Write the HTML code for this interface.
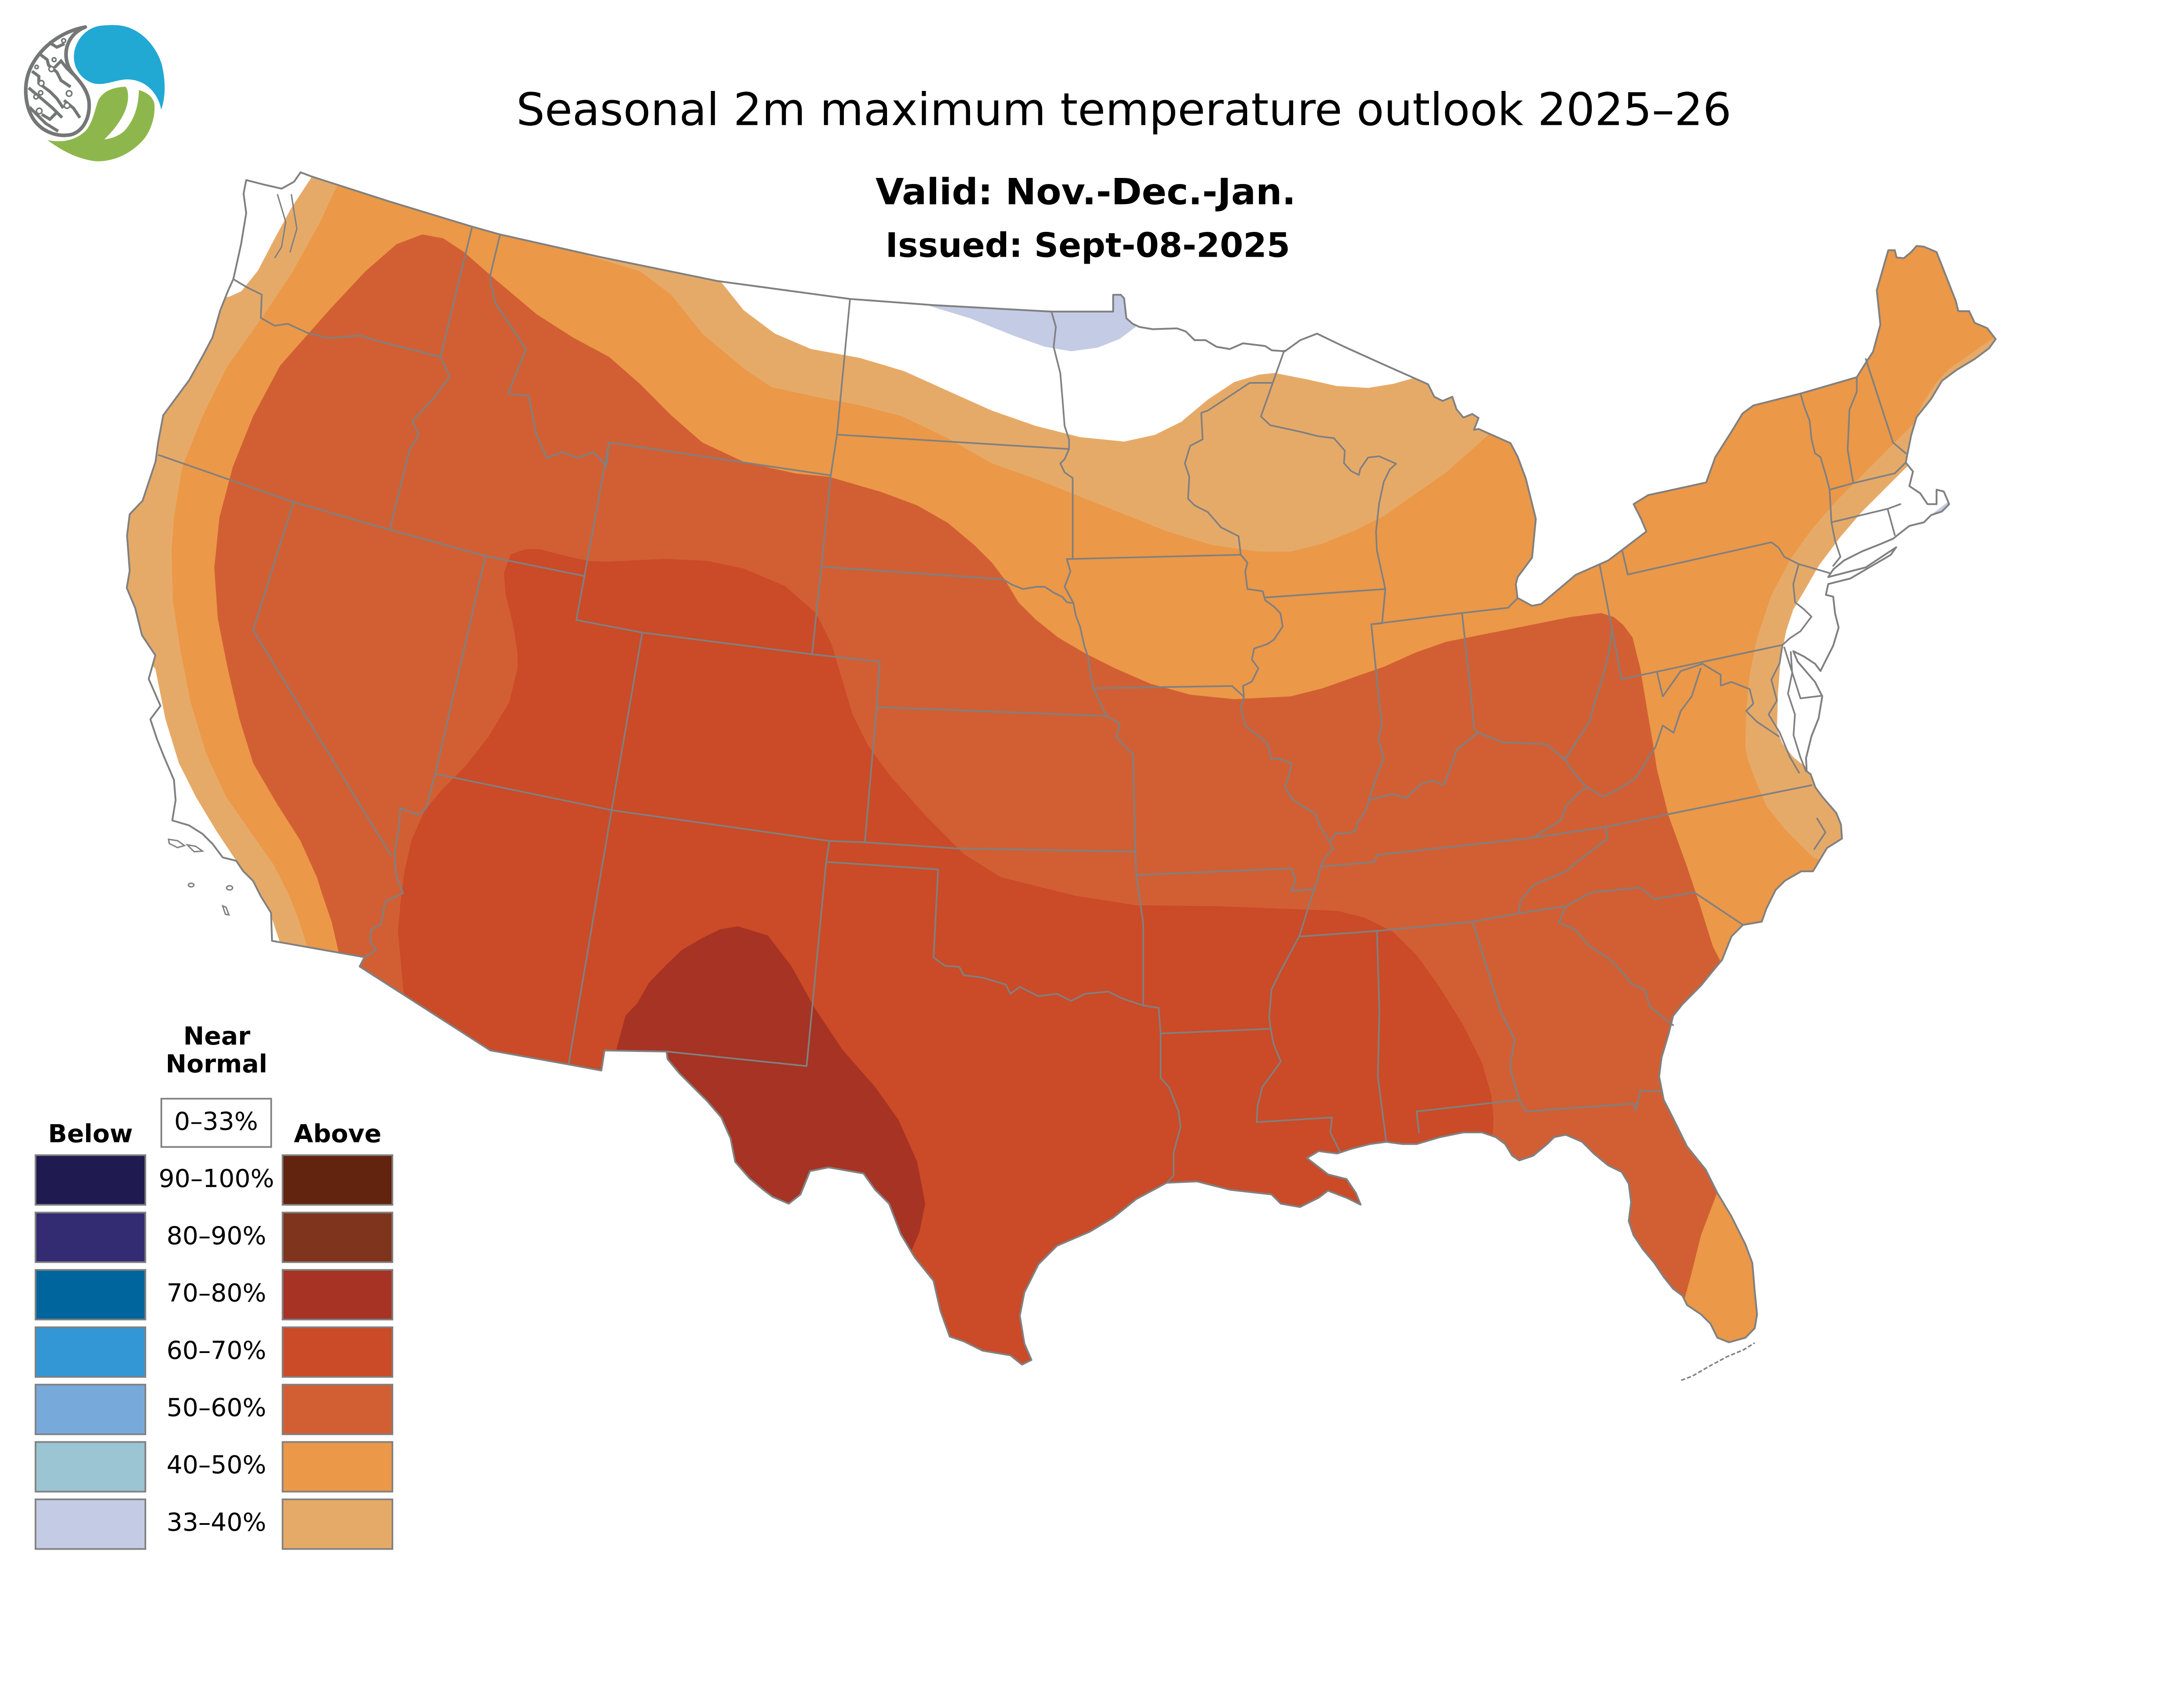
<!DOCTYPE html>
<html><head><meta charset="utf-8"><style>html,body{margin:0;padding:0;background:#fff;width:100%;height:100%;overflow:hidden;}svg{position:absolute;left:0;top:0;width:100vw;height:73.328vw;display:block;}</style></head>
<body>
<svg xmlns="http://www.w3.org/2000/svg" viewBox="0 0 1568 1149.8" preserveAspectRatio="none">
<rect width="1568" height="1149.8" fill="#fff"/>
<defs>
<clipPath id="us"><path d="M224,127 L280,145 L340.4,163.4 L360.5,169 L431.5,185 L517.4,202.6 L612.8,215.5 L673.6,220 L758,224.6 L802.5,224.6 L802.5,212.5 L808,212.5 L810.4,215.1 L812,229.4 L816.7,233.5 L821.5,235.7 L831,237.3 L848.5,236.7 L854.8,238.9 L861.2,245.2 L869.1,245.2 L877.1,250 L886.6,251.6 L896.1,247.5 L912,249.4 L916.8,252.5 L926.3,253.2 L937.4,245.2 L949.5,240.5 L969.2,250 L1000.9,264.3 L1029.5,277 L1034,286 L1040,289 L1047,286 L1050,295 L1055,301 L1061.4,298.4 L1065.9,301.3 L1062.6,309.9 L1065.9,309.2 L1088.9,319.4 L1094.1,329.2 L1100,345 L1107.2,374 L1104.5,402 L1094.1,416 L1092.8,421 L1094,431 L1104.5,436.7 L1111.1,435.4 L1135.9,414.4 L1159.4,404 L1169.9,396.1 L1186.9,383.1 L1183,373.9 L1177.7,363.4 L1188.2,356.9 L1230,347.8 L1236.6,329.5 L1248.3,311.1 L1256.2,298.1 L1264,292.3 L1298,283.7 L1338.6,271.9 L1345.1,261.5 L1350.3,253.6 L1355.6,234 L1353,209.2 L1361.3,180.4 L1366,180.4 L1367.3,185.6 L1372.5,186.1 L1377.8,181.7 L1381.7,177.3 L1386.9,177.8 L1396.1,181.7 L1410,217 L1411.8,224.3 L1419.6,224.3 L1423.6,232.7 L1432.7,236.6 L1438.7,244.5 L1434,251 L1423.6,258.8 L1410.5,266.7 L1400,274.5 L1392.2,287.6 L1381.7,300.7 L1377.8,313.8 L1375.2,326.8 L1373.9,333.4 L1379.1,339.9 L1376.5,350.4 L1384.3,355.6 L1389.6,363.4 L1396.1,363.4 L1396.1,353 L1401.3,354.3 L1405.2,363.4 L1400,368.7 L1392.2,371.3 L1387,376.5 L1376.5,379.1 L1371.3,383.1 L1364.8,388.3 L1355.6,392.2 L1342.5,397.4 L1329.4,404 L1321.6,410.5 L1318,416 L1345,409 L1367,394.5 L1363,400 L1334,417 L1318,421 L1316.3,428.8 L1321.6,430.1 L1322.9,441.9 L1325.5,452.4 L1321.6,465.4 L1316.3,475.9 L1312.4,483.7 L1308.5,478.5 L1300.6,473.3 L1292.8,469.4 L1296,477 L1308.5,491.6 L1313.7,502 L1311.1,517.7 L1305.9,530.8 L1302,546.5 L1302.5,556 L1305.3,558 L1308.7,567.5 L1313.7,574.3 L1323.8,586 L1327.2,594.4 L1327.9,604.5 L1317.1,611.3 L1307,628.1 L1298.6,628.1 L1286.9,634.8 L1280.1,641.5 L1273.4,655 L1270.1,664.4 L1256.6,666.7 L1248.2,675.1 L1241.5,691.9 L1233.1,702 L1226.3,710.4 L1212.9,723.9 L1206.2,732.3 L1202.8,745.7 L1197.8,762.5 L1196.1,776 L1199.4,792.8 L1206.2,806.2 L1216.2,826.4 L1229.7,843.2 L1238.1,860 L1248.2,876.8 L1258.3,897 L1263.3,910.5 L1265,930.6 L1266.7,947.5 L1265,957.5 L1258.3,964.3 L1246.5,967.6 L1238.1,964.3 L1233.1,954.2 L1226.3,947.5 L1216.2,940.7 L1212.9,934 L1206.2,929 L1199.4,920.5 L1192.7,910.5 L1184.3,900.4 L1177.6,890.3 L1174.2,880.2 L1175.9,866.8 L1174.2,853.3 L1169.2,844.9 L1159.1,839.9 L1149,831.5 L1140.6,823.1 L1128.8,818 L1120.4,819.7 L1115.4,824.7 L1105.3,833.1 L1095.2,836.5 L1090.2,833.1 L1085.1,824.7 L1078.4,819.7 L1068.3,816.3 L1054.9,816.3 L1038.1,819.7 L1021.2,824.7 L1011.2,824.7 L999.4,823.1 L987.6,824.7 L974.2,828.1 L964.1,831.5 L950.6,829.8 L942.2,834.8 L957.4,846.6 L970.8,850 L977.5,860 L980.9,868.4 L970.8,863.4 L957.4,858.3 L950.6,863.4 L937.2,870.1 L923.4,867.7 L916.7,861 L886.5,857.6 L862.9,851.6 L841,852.6 L819.2,864.3 L802.4,877.8 L785.6,887.9 L762,898 L748.6,911.4 L738.5,931.6 L735.2,948.4 L738.5,968.6 L743.6,980.3 L736.8,983.7 L728.4,977 L708.3,973.6 L694.8,966.9 L684.7,963.5 L678,945 L673,923.2 L659.5,906.4 L649.4,889.6 L641,867.7 L630.9,857.6 L622.5,845.9 L597.3,841.5 L583.9,844.2 L577.1,861 L568.6,867.7 L557,862.7 L550.2,857.6 L540.2,849.2 L530,837.5 L526.7,820.6 L520,805.5 L509.9,793.8 L499.8,783.7 L489.7,773.6 L481.3,763.5 L480.5,758 L435.8,757.2 L433.5,771.7 L409.9,767.3 L353.5,757.2 L259.3,696.7 L262.7,690 L196.1,678.2 L195.4,658 L188,646 L182.5,635.1 L175.2,627.8 L170.3,620.5 L160.6,618.1 L153.3,608.4 L146,601.1 L136.3,595 L124.2,591.4 L126.6,576.8 L125.4,562.2 L118.1,545.2 L113.3,533.1 L108.4,518.5 L115.7,508.8 L107.2,489.4 L112,472.4 L102.3,457.8 L97.5,438.4 L91.4,423.8 L93.5,411.3 L91.6,386.1 L93.5,370.7 L102.8,360.9 L106.5,349.7 L112.1,332.9 L114,318.9 L117.7,299.3 L127.1,286.6 L136.4,274 L145.8,257.2 L153.2,243.2 L158.8,223.6 L164.4,209.6 L168.2,201.2 L170.1,192.8 L173.8,176 L177.5,153.6 L175.6,139.6 L177.5,129.8 L190,133 L203,136 L212,131 L216.7,124.2 Z"/></clipPath>
</defs>

<g clip-path="url(#us)">
<rect x="0" y="0" width="1568" height="1149.8" fill="#E6AA68"/>
<!-- white areas -->
<path fill="#fff" d="M60,115 L224.2,120 L224.2,128.4 L210,150 L198,172 L186,195 L174,210 L165,214 L60,214 Z"/>
<path fill="#fff" d="M60,468 L100,470 L108,478 L112,482.1 L119.3,518.5 L129,550.1 L141.2,574.4 L155.8,598.7 L170.3,620.5 L187.3,644.3 L196,662 L202,680 L202,700 L60,700 Z"/>
<path fill="#fff" d="M519.3,190 L519.3,202.6 L536.1,223.6 L558.5,240.4 L584.7,251.6 L619.9,258 L651.7,267.5 L683.4,281.8 L715.1,296 L746.9,307.1 L778.6,315.1 L810.4,318.3 L832.6,313.5 L851.7,304 L870.7,288.1 L889.8,275.4 L907.9,270 L919.1,268.9 L941.5,273.3 L963.9,278.3 L986.3,279.6 L1004.3,276.7 L1017.7,272.9 L1028,270 L1030,150 L519,150 Z"/>
<path fill="#fff" d="M1376.5,334.7 L1358.2,353 L1342.5,368.7 L1326.8,387 L1311.1,407.9 L1300.6,426.2 L1292.8,439.3 L1287.6,455 L1283.6,475.9 L1281.8,499.4 L1281,525.6 L1285,536 L1293,546 L1302,553 L1310,562 L1470,562 L1470,328 L1385,328 Z"/>
<!-- lavender -->
<path fill="#C4CBE5" d="M660,205 L667.5,219.8 L699.3,229.4 L731,242.1 L753.3,250 L772.3,253.2 L791.3,250.6 L807.2,244.3 L819.9,234.8 L826,226 L812,205 Z"/>
<path fill="#C4CBE5" d="M1391,372 L1404,362 L1406,364.5 L1393,374 Z"/>
<!-- orange 40-50 -->
<path fill="#EB9848" d="M243,115 L424,165 L424,184.4 L461.4,195.6 L483.8,212.4 L506.2,240.4 L536.1,265.6 L556,279 L588,286 L619,292 L650,300 L683.4,316 L715.1,334.1 L746.9,345.3 L778.6,358 L810.4,370.7 L842.2,383.4 L873.9,392.9 L907.9,397.7 L930.3,397.7 L952.7,392.1 L975.1,383.2 L997.6,372 L1020,356.3 L1042.4,340.6 L1060.3,324.9 L1073.8,312.6 L1078,305 L1085,298 L1150,298 L1250,278 L1335,250 L1350,168 L1400,160 L1448,236 L1432,247 L1418,257 L1405,266 L1395,277 L1386,291 L1379.1,305.9 L1360.8,324.2 L1342.5,342.5 L1324.2,360.8 L1305.9,381.7 L1290.2,404 L1277.1,428.8 L1266.6,460.2 L1261.4,486.4 L1258.8,512.5 L1258.3,538.6 L1260,547.4 L1265,560.8 L1273.4,581 L1286.9,597.8 L1300.3,611.3 L1307,618 L1325,625 L1340,700 L1300,1060 L240,1060 L225,700 L221.3,681.6 L215,662 L208,644.3 L197,622.9 L180,598.7 L163,574.4 L148.5,542.8 L137.5,506.4 L130.3,470 L124.7,433.6 L123.7,397.1 L125.4,372.9 L131.5,336.4 L146,300 L164.2,263.6 L188.7,229.2 L211.1,195.6 L229.8,162 L242.9,134 Z"/>
<!-- 50-60 -->
<path fill="#D25F33" d="M246,700 L244.2,686.6 L239.2,664.8 L232.2,644.3 L228.6,632.7 L216.5,605.9 L199.5,579.2 L182.5,550.1 L172.7,518.5 L164.2,482.1 L157,445.7 L154.5,409.3 L158.2,372.9 L167.9,336.4 L182.5,300 L201.9,263.6 L237.3,223.6 L263.4,195.6 L285.9,176 L304.5,169 L319.5,171.8 L334.4,181.6 L356.8,201.2 L386.7,226.4 L412.9,243.2 L439,257.2 L461.4,276.8 L483.8,299.3 L506.2,318.9 L536.1,332.9 L573.5,341.3 L597.7,343.7 L635.8,354.8 L661.2,364.3 L683.4,377 L702.4,392.9 L715.1,405.6 L724.7,418.3 L734.2,434.2 L746.9,446.8 L762.8,459.5 L781.8,470.7 L804,481.8 L829.5,492.9 L858.1,500.8 L889.8,504 L907.9,503.1 L930.3,502 L952.7,496.4 L975.1,488.5 L997.6,480.7 L1020,470.6 L1042.4,462.7 L1064.8,458.2 L1087.2,453.8 L1109.6,449.3 L1132,444.8 L1154.4,441.9 L1163.4,444.8 L1170.1,450.4 L1176.9,459.4 L1182.5,481.8 L1188.1,515.4 L1192.6,541.9 L1194.4,554.1 L1202.8,587.7 L1216.2,624.7 L1226.3,655 L1234.7,681.9 L1241.5,695.3 L1262,700 L1252,840 L1239,857 L1226.3,890.3 L1219.6,917.2 L1214.6,935.7 L1205,948 L1150,1010 L200,1010 L200,720 Z"/>
<!-- 60-70 -->
<path fill="#CB4A27" d="M291.3,718.5 L286.9,671.5 L289.3,644.3 L291.7,627.8 L296.6,605.9 L306.3,584 L318.4,569.5 L335.4,552.5 L352.4,530.7 L367,506.4 L373.1,482.1 L373.1,470 L369.4,448.1 L364.6,428.7 L363.3,412.9 L368.2,399.6 L379.1,395.9 L388.8,395.9 L413.1,402 L425.3,404.4 L437.4,404.9 L480.1,402.9 L510,404.3 L536.1,409.9 L566,422.5 L588.4,442.1 L599.6,464.6 L607.1,489.8 L614.6,515 L625.8,537.4 L641,558.4 L668,588.7 L694.8,615.6 L721.7,632.4 L775.5,645.8 L819.2,652.6 L876.4,653.2 L937.2,655.5 L964.1,656.6 L984.3,661.7 L1004.4,671.8 L1021.3,688.6 L1038.1,712.1 L1054.9,739 L1068.3,765.9 L1075.1,789.4 L1076.7,806.2 L1076,822 L1078,850 L1000,1010 L500,1010 L291,735 Z"/>
<!-- 70-80 -->
<path fill="#A63323" d="M444.2,757.2 L451,732 L459.5,723.2 L467.8,708.5 L479.6,696.3 L491.3,685 L506.5,676.1 L519,670 L531.8,667.7 L553.6,674.4 L570.4,696.3 L587.2,726.5 L607.4,756.8 L631,783.7 L647.7,807.2 L661.2,837.5 L667,867.7 L662.9,887.9 L657.2,901.3 L640,930 L470,860 L440,775 Z"/>
</g>

<!-- state borders -->
<path fill="none" stroke="#808080" stroke-width="1.2" stroke-linejoin="round" stroke-linecap="round" d="
M168.2,201.2 L177.5,206.8 L188.7,212.4 L188,229.2 L198,234.8 L207.4,233.4 L221.6,239.9 L237.3,243.8 L259.7,241.8 L270.9,245.5 L317.6,257.2
M340.4,163.4 L317.6,257.2
M317.6,257.2 L324.3,271.2 L312,288 L297.1,303.5 L301.9,313.3 L295.2,324.5 L281,381.9
M114.5,328 L211.6,361.9 L281,381.9 L350,400.8 L421.6,415.3
M211.6,361.9 L182.5,454.2 L282,616.9
M350,400.8 L313.8,557.8 L307,583 L301.3,587.4 L288.6,582.4 L287.9,594.1 L284.5,616 L285.5,631.1 L290.6,643.9 L277.8,649.6 L274.5,666.4 L267.7,669.8 L266.7,678.2 L271.1,684.9 L262.7,690
M360.5,169 L353.1,199.8 L356.8,218 L368,234.8 L379.2,251.6 L366.2,283.8 L381.1,285.2 L386.7,313.3 L394.2,330.1 L405.4,325.9 L416.6,330.1 L427.8,325.9 L437.1,335.7 L439,318.9
M439,318.9 L415.5,446.9
M439,318.9 L598.9,342.7
M612.8,215.5 L603.4,313.3 L598.9,342.7 L592.2,408.5 L585.4,471.6
M415.5,446.9 L463,456 L585.4,471.6 L634.2,477
M463,456 L440.9,584
M313.8,557.8 L440.9,584 L598,606.2 L623.5,607.2 L688.1,611.5 L818.5,613.9
M440.9,584 L409.9,767.3
M598,606.2 L595.6,621.3 L581.5,768.5
M480.5,758 L581.5,768.5
M595.6,621.3 L676.3,626.7 L673,690.2
M673,690.2 L681.4,696.3 L691.5,696.9 L694.8,703 L708.3,704.7 L725.1,709.7 L728.4,716.4 L735.2,711.4 L748.6,718.1 L762,716.4 L772.1,721.5 L782.2,716.4 L799,714.8 L809.1,719.8 L824.2,724.8 L835.3,726.5
M818.5,613.9 L819.2,630.7 L824.2,666 L824.2,724.8
M835.3,726.5 L836.7,745 L836.7,777 L842.7,783.7 L849.5,800.5 L851.1,812.2 L846.1,830.7 L846.1,847.5 L841,852.6
M836.7,745 L916.1,741.6
M603.4,313.3 L770.7,323.7
M592.2,408.5 L723.1,417.6 L729.4,421.4 L737.4,424.6 L746.9,423 L753.2,423 L759.6,427.2 L765.9,430.3 L769.1,434.1 L773.9,434.8
M632,509.7 L797.7,516.1
M634.2,477 L632,509.7 L623.5,607.2
M758,224.6 L761.2,235.7 L759.6,250 L764.4,269 L766,288 L767.5,307.1 L770.7,316.7 L770.7,323.7 L767.5,331 L764.4,334.1 L767.5,340.5 L773.3,344.6 L773.3,402.4
M769.1,403 L771.7,411.9 L767.5,423 L773.9,434.8
M773.9,434.8 L775.5,443.7 L778.6,451.6 L781.8,465.9 L784.4,473.8 L786.6,488.1 L788.2,496.1
M788.2,496.1 L797.7,516.1 L807.2,521.5 L804.7,531 L810.4,537.3 L816.8,543.7 L818.5,613.9
M769.1,403 L894.5,399.9
M894.5,399.9 L892.9,386.5 L880.3,380.2 L870.7,369.1 L861.2,364.3 L856.5,359.5 L857.4,343.7 L854.2,334.1 L858,321.4 L867,316.7 L866,297.6 L870.7,296 L900.9,276 L916.8,276
M925.8,252.7 L909,300.2 L915.7,306.5 L938.2,311.4 L950.1,314.4 L961.7,315.9 L969.5,324.9 L968.9,333.9 L974,339.5 L979.6,342.4 L980.7,337.9 L986.3,329.8 L994.2,328.9 L1006.5,334.3 L1002,338.3 L997.6,347.3 L994.2,363 L992,383.2 L992.6,396.6 L998.7,424.6
M894.5,399.9 L899.3,405.6 L897.7,412 L899.3,424.6 L910.4,426.2 L912,432.6 L918.4,437.3 L923.1,442.1 L924.7,451.6 L918.4,461.1 L913.6,464.3 L904.1,467.5 L902.5,475.4 L907.2,481.8 L902.5,491.3 L896.1,494.5 L896.8,502.4
M788.2,496.1 L888.2,494.5 L896.8,502.4
M912.4,430.7 L998.7,424.6
M896.8,502.4 L894.6,510.3 L897.7,523.1 L905.6,529.4 L913.6,535.8 L916.8,546.9 L921.5,546.9 L931,550 L929.5,558 L926.3,567.5 L931,575.4 L937.4,580.2 L948.5,586.6 L951.7,596.1 L958,605.6 L961.2,612 L954.9,618.3 L951.7,626.2 L950.3,632.4 L943.6,652.6 L936.9,674.4 L923.4,699.6 L916.7,713.1 L915,733.2 L916.1,741.6 L918.4,753.4 L923.4,765.2 L910,783.7 L906.6,797.1 L906,808.9
M819.2,630.7 L931,626 L934,634 L931,642 L948,641
M906,808.9 L960.4,805.5 L959,816.3 L965.8,829.8
M937.2,675.1 L992.7,671.1 L1061.6,664.4 L1095.2,658.3
M992.7,671.1 L994.4,729 L993.3,776 L999.4,823.1
M1061.6,664.4 L1081.8,729 L1091.9,749.1 L1088.5,769.3 L1095.2,792.8 L1100.3,801.2
M1023,816.3 L1021.2,801.2 L1095.2,792.8
M1100.3,801.2 L1177.6,795.5 L1179,800 L1182.6,786.1 L1197.8,786.8
M1128.8,653.3 L1123.8,665 L1135.6,670.1 L1145.6,681.9 L1159.1,690.3 L1169.2,700.3 L1175.9,708.7 L1186,713.8 L1189.3,725.6 L1197.8,732.3 L1206.2,739
M1095.2,658.3 L1128.8,653.3
M1128.8,653.3 L1147.3,643.2 L1182.6,639.8 L1192.7,648.2 L1221.3,643.2 L1256.6,666.7
M1157.4,596.1 L1159.1,604.5 L1138.9,619.7 L1128.8,628.1 L1105.3,638.1 L1095.9,649.9 L1095.2,658.3
M953.9,624.6 L991,621.3 L992.7,616.3 L1105.3,603.9 L1157.4,596.1 L1306,566
M1105.3,603.9 L1125.5,591.1 L1128.8,581 L1138.9,570.9 L1144,567.5
M1144,567.5 L1132.2,554.1 L1127.1,545.7 L1128.1,547.7
M1144,567.5 L1155.7,574.3 L1169.2,567.5 L1179.3,560.8 L1187.7,547.4 L1193.4,538.6 L1198.7,523 L1206.5,528.2 L1211.7,512.5 L1219.6,502 L1226,482
M1194.7,485 L1198.7,502 L1211.7,483.7 L1227.4,478.5 L1240.5,486.4 L1240.5,494.2 L1248.3,491.6 L1261.4,496.8 L1264,507.3 L1258.8,512.5 L1266.6,520.3 L1282.3,530.8
M1169,489.6 L1285,464.9
M1153.3,407.4 L1169,489.6
M1162,455 L1160,470 L1155,490 L1150,505 L1146,520 L1135,537 L1128.1,547.7
M959.6,605.6 L962.8,600.8 L969.2,600.8 L977.1,599.3 L978.7,592.9 L985,583.4 L986.6,577 L997.7,573.9 L1004,572.3 L1013.6,575.4 L1018.3,570.7 L1026.3,564.3 L1032.6,562.7 L1040.6,565.9 L1045.3,554.8 L1050.1,540.5 L1065.3,528.1 L1083.6,535.1 L1115,536.5 L1128.1,547.7
M998.7,424.6 L996.4,449.3 L988.6,450 L996.1,523.1 L993.9,532.6 L997.7,546.9 L992.9,558 L988.8,570.7 L986.6,577
M988.6,450 L1054,441.9 L1087.2,438.1 L1093.9,431.4
M1054,441.9 L1060.1,497.3 L1062.7,525.3 L1065.3,528.1
M1169.7,397.7 L1173.5,414.1 L1277.1,390.9 L1282.3,394.8 L1286.3,401.4 L1296.7,406.6
M1296.7,406.6 L1292.8,421 L1294.1,434.1 L1300.6,439.3 L1305.9,444.5 L1298,455 L1290.2,460.2 L1285,464.9
M1296.7,406.6 L1319,413.1
M1298,283.7 L1300.6,292.8 L1304.6,303.3 L1305.9,316.4 L1308.5,326.8 L1312.4,329.5 L1316.3,342.5 L1319,353 L1320.3,376.5 L1322.9,389.6 L1326.8,401.4 L1321.6,407.9
M1338.6,271.9 L1338.6,282.4 L1333.3,295.5 L1332,324.2 L1336,347.8
M1345.1,258.8 L1364.7,319 L1373.9,326.8
M1319,353 L1336,348.3 L1366,341.2 L1373.9,333.4
M1320.3,376.5 L1360.8,366.8 L1370,363.4
M1360.8,366.8 L1366,385.7
M1286.3,466.7 L1298,503.4 L1313.7,501.5
M1285,465 L1283,478 L1277,490 L1281,505 L1275,515 L1283,528 L1290,545 L1297,557
M1291,470 L1292,485 L1289,500 L1294,515 L1293,530 L1298,546 L1302,556
M1310,590 L1316,600 L1308,612
"/>

<!-- outline -->
<path fill="none" stroke="#808080" stroke-width="1.3" stroke-linejoin="round" d="M224,127 L280,145 L340.4,163.4 L360.5,169 L431.5,185 L517.4,202.6 L612.8,215.5 L673.6,220 L758,224.6 L802.5,224.6 L802.5,212.5 L808,212.5 L810.4,215.1 L812,229.4 L816.7,233.5 L821.5,235.7 L831,237.3 L848.5,236.7 L854.8,238.9 L861.2,245.2 L869.1,245.2 L877.1,250 L886.6,251.6 L896.1,247.5 L912,249.4 L916.8,252.5 L926.3,253.2 L937.4,245.2 L949.5,240.5 L969.2,250 L1000.9,264.3 L1029.5,277 L1034,286 L1040,289 L1047,286 L1050,295 L1055,301 L1061.4,298.4 L1065.9,301.3 L1062.6,309.9 L1065.9,309.2 L1088.9,319.4 L1094.1,329.2 L1100,345 L1107.2,374 L1104.5,402 L1094.1,416 L1092.8,421 L1094,431 L1104.5,436.7 L1111.1,435.4 L1135.9,414.4 L1159.4,404 L1169.9,396.1 L1186.9,383.1 L1183,373.9 L1177.7,363.4 L1188.2,356.9 L1230,347.8 L1236.6,329.5 L1248.3,311.1 L1256.2,298.1 L1264,292.3 L1298,283.7 L1338.6,271.9 L1345.1,261.5 L1350.3,253.6 L1355.6,234 L1353,209.2 L1361.3,180.4 L1366,180.4 L1367.3,185.6 L1372.5,186.1 L1377.8,181.7 L1381.7,177.3 L1386.9,177.8 L1396.1,181.7 L1410,217 L1411.8,224.3 L1419.6,224.3 L1423.6,232.7 L1432.7,236.6 L1438.7,244.5 L1434,251 L1423.6,258.8 L1410.5,266.7 L1400,274.5 L1392.2,287.6 L1381.7,300.7 L1377.8,313.8 L1375.2,326.8 L1373.9,333.4 L1379.1,339.9 L1376.5,350.4 L1384.3,355.6 L1389.6,363.4 L1396.1,363.4 L1396.1,353 L1401.3,354.3 L1405.2,363.4 L1400,368.7 L1392.2,371.3 L1387,376.5 L1376.5,379.1 L1371.3,383.1 L1364.8,388.3 L1355.6,392.2 L1342.5,397.4 L1329.4,404 L1321.6,410.5 L1318,416 L1345,409 L1367,394.5 L1363,400 L1334,417 L1318,421 L1316.3,428.8 L1321.6,430.1 L1322.9,441.9 L1325.5,452.4 L1321.6,465.4 L1316.3,475.9 L1312.4,483.7 L1308.5,478.5 L1300.6,473.3 L1292.8,469.4 L1296,477 L1308.5,491.6 L1313.7,502 L1311.1,517.7 L1305.9,530.8 L1302,546.5 L1302.5,556 L1305.3,558 L1308.7,567.5 L1313.7,574.3 L1323.8,586 L1327.2,594.4 L1327.9,604.5 L1317.1,611.3 L1307,628.1 L1298.6,628.1 L1286.9,634.8 L1280.1,641.5 L1273.4,655 L1270.1,664.4 L1256.6,666.7 L1248.2,675.1 L1241.5,691.9 L1233.1,702 L1226.3,710.4 L1212.9,723.9 L1206.2,732.3 L1202.8,745.7 L1197.8,762.5 L1196.1,776 L1199.4,792.8 L1206.2,806.2 L1216.2,826.4 L1229.7,843.2 L1238.1,860 L1248.2,876.8 L1258.3,897 L1263.3,910.5 L1265,930.6 L1266.7,947.5 L1265,957.5 L1258.3,964.3 L1246.5,967.6 L1238.1,964.3 L1233.1,954.2 L1226.3,947.5 L1216.2,940.7 L1212.9,934 L1206.2,929 L1199.4,920.5 L1192.7,910.5 L1184.3,900.4 L1177.6,890.3 L1174.2,880.2 L1175.9,866.8 L1174.2,853.3 L1169.2,844.9 L1159.1,839.9 L1149,831.5 L1140.6,823.1 L1128.8,818 L1120.4,819.7 L1115.4,824.7 L1105.3,833.1 L1095.2,836.5 L1090.2,833.1 L1085.1,824.7 L1078.4,819.7 L1068.3,816.3 L1054.9,816.3 L1038.1,819.7 L1021.2,824.7 L1011.2,824.7 L999.4,823.1 L987.6,824.7 L974.2,828.1 L964.1,831.5 L950.6,829.8 L942.2,834.8 L957.4,846.6 L970.8,850 L977.5,860 L980.9,868.4 L970.8,863.4 L957.4,858.3 L950.6,863.4 L937.2,870.1 L923.4,867.7 L916.7,861 L886.5,857.6 L862.9,851.6 L841,852.6 L819.2,864.3 L802.4,877.8 L785.6,887.9 L762,898 L748.6,911.4 L738.5,931.6 L735.2,948.4 L738.5,968.6 L743.6,980.3 L736.8,983.7 L728.4,977 L708.3,973.6 L694.8,966.9 L684.7,963.5 L678,945 L673,923.2 L659.5,906.4 L649.4,889.6 L641,867.7 L630.9,857.6 L622.5,845.9 L597.3,841.5 L583.9,844.2 L577.1,861 L568.6,867.7 L557,862.7 L550.2,857.6 L540.2,849.2 L530,837.5 L526.7,820.6 L520,805.5 L509.9,793.8 L499.8,783.7 L489.7,773.6 L481.3,763.5 L480.5,758 L435.8,757.2 L433.5,771.7 L409.9,767.3 L353.5,757.2 L259.3,696.7 L262.7,690 L196.1,678.2 L195.4,658 L188,646 L182.5,635.1 L175.2,627.8 L170.3,620.5 L160.6,618.1 L153.3,608.4 L146,601.1 L136.3,595 L124.2,591.4 L126.6,576.8 L125.4,562.2 L118.1,545.2 L113.3,533.1 L108.4,518.5 L115.7,508.8 L107.2,489.4 L112,472.4 L102.3,457.8 L97.5,438.4 L91.4,423.8 L93.5,411.3 L91.6,386.1 L93.5,370.7 L102.8,360.9 L106.5,349.7 L112.1,332.9 L114,318.9 L117.7,299.3 L127.1,286.6 L136.4,274 L145.8,257.2 L153.2,243.2 L158.8,223.6 L164.4,209.6 L168.2,201.2 L170.1,192.8 L173.8,176 L177.5,153.6 L175.6,139.6 L177.5,129.8 L190,133 L203,136 L212,131 L216.7,124.2 Z"/>

<!-- islands / keys -->
<g fill="#fff" stroke="#808080" stroke-width="1">
<path d="M121.5,605 L128,606 L133,609.5 L128,611 L122,608 Z"/>
<path d="M135,609 L141,610 L146,613.5 L140,614 Z"/>
<ellipse cx="137.8" cy="638" rx="2" ry="1.3"/>
<ellipse cx="165.5" cy="640" rx="2.2" ry="1.5"/>
<path d="M160.5,653 L163,654 L165,659.5 L162.5,659 Z"/>
</g>
<path fill="none" stroke="#808080" stroke-width="1.1" stroke-dasharray="3,1.5" d="M1212,995 L1220,992 L1232,985 L1245,978 L1257,973 L1265,968"/>
<path fill="none" stroke="#808080" stroke-width="1" d="M200,140 L206,160 L203,178 L198,186 M210,140 L214,165 L209,182"/>

<!-- titles -->
<g font-family="'DejaVu Sans', 'Liberation Sans', sans-serif" fill="#000">
<text x="810.2" y="90.2" font-size="32.5" text-anchor="middle" textLength="876" lengthAdjust="spacingAndGlyphs">Seasonal 2m maximum temperature outlook 2025–26</text>
<text x="782.7" y="147.2" font-size="26" font-weight="bold" text-anchor="middle" textLength="303" lengthAdjust="spacingAndGlyphs">Valid: Nov.-Dec.-Jan.</text>
<text x="784.2" y="185.2" font-size="24.3" font-weight="bold" text-anchor="middle" textLength="291.7" lengthAdjust="spacingAndGlyphs">Issued: Sept-08-2025</text>
</g>

<!-- legend boxes -->
<g stroke="#808080" stroke-width="1.2">
<rect x="116.3" y="792" width="79.2" height="34.8" fill="#fff"/>
<rect x="25.6" y="832.7" width="79.2" height="35.8" fill="#1F1A4F"/>
<rect x="25.6" y="874.05" width="79.2" height="35.8" fill="#332C72"/>
<rect x="25.6" y="915.4" width="79.2" height="35.8" fill="#00659C"/>
<rect x="25.6" y="956.75" width="79.2" height="35.8" fill="#3397D5"/>
<rect x="25.6" y="998.1" width="79.2" height="35.8" fill="#77AADB"/>
<rect x="25.6" y="1039.45" width="79.2" height="35.8" fill="#9BC5D3"/>
<rect x="25.6" y="1080.8" width="79.2" height="35.8" fill="#C4CBE5"/>
<rect x="203.7" y="832.7" width="79.2" height="35.8" fill="#62230F"/>
<rect x="203.7" y="874.05" width="79.2" height="35.8" fill="#7E341D"/>
<rect x="203.7" y="915.4" width="79.2" height="35.8" fill="#A63323"/>
<rect x="203.7" y="956.75" width="79.2" height="35.8" fill="#CB4A27"/>
<rect x="203.7" y="998.1" width="79.2" height="35.8" fill="#D25F33"/>
<rect x="203.7" y="1039.45" width="79.2" height="35.8" fill="#EB9848"/>
<rect x="203.7" y="1080.8" width="79.2" height="35.8" fill="#E6AA68"/>
</g>
<!-- legend text -->
<g font-family="'DejaVu Sans', 'Liberation Sans', sans-serif" fill="#000" font-size="18" text-anchor="middle">
<text x="156.3" y="752.9" font-weight="bold">Near</text>
<text x="156.1" y="773" font-weight="bold">Normal</text>
<text x="65.2" y="823.4" font-weight="bold">Below</text>
<text x="243.4" y="823.4" font-weight="bold">Above</text>
<text x="155.8" y="814.4">0–33%</text>
<text x="156" y="855.6">90–100%</text>
<text x="156" y="896.9">80–90%</text>
<text x="156" y="938.2">70–80%</text>
<text x="156" y="979.5">60–70%</text>
<text x="156" y="1020.8">50–60%</text>
<text x="156" y="1062.1">40–50%</text>
<text x="156" y="1103.4">33–40%</text>
</g>

<!-- logo -->
<g>
<path fill="#21A9D4" d="M74.2,18.4 C63,19 55,28 53.5,38 C52,48 58,57 67,60 C75,62 82,58 90,57.3 C98,56.8 106,60 111,67 C114,71 115.5,75 116.2,79.1 C119.5,70 119.5,58 116.5,46 C112,32 101,21 88,18.6 C83,17.8 78,18 74.2,18.4 Z"/>
<path fill="#8DB74D" d="M34.2,101 C45,109 56,114.5 68.3,116.2 C82,117 95,110.5 104,100 C110,92 112,82 111.3,75 C110.5,70 106,66.5 100.1,64.9 C100,76 97,86 90,94 C86,98 80,100 75.2,100.5 C84,92 92,81 92.3,70.3 C92.5,66 91.5,63.5 90.3,62.5 C82,63 75,65 71,72 C68,80 67,88 62,94 C56,100 47,103.5 34.2,101 Z"/>
<path fill="none" stroke="#757676" stroke-width="2.6" stroke-linejoin="round" d="M61.5,19.5 C45,22.5 30,33 22.5,48 C16.5,60 17.5,76 24.5,86.5 C31,95.5 42,99 51.5,97 C59.5,94.5 64.5,86 64.3,75.2 C64,66 58,59 52.5,53 C47.5,47 46,38 49.5,30.5 C52,25 56.5,21.5 61.5,19.5 Z"/>
<g fill="none" stroke="#757676" stroke-width="2.2" stroke-linecap="square">
<path d="M36,31 L41,34 L45.5,32"/>
<path d="M30,40 L34,43 L35,47 L41,52 L44,58 L50,62"/>
<path d="M24,52 L28,55 L28,60 L36,66 L41,71 L45,77"/>
<path d="M21.5,64 L25,67 L31,72 L38,78 L44,84"/>
<path d="M22,78 L28,84 L33,89 L41,94"/>
<path d="M40,48 L44,44 L48,49 L52,53"/>
<path d="M47,73 L53,78 L57,84"/>
<path d="M31,83 L36,86 L40,82"/>
</g>
<g fill="#fff" stroke="#757676" stroke-width="1.1">
<circle cx="45.9" cy="29.3" r="1.4"/>
<circle cx="39" cy="43" r="1.4"/>
<circle cx="37.1" cy="49.8" r="1.8"/>
<circle cx="26.4" cy="48.3" r="1.2"/>
<circle cx="29.8" cy="60" r="1.9"/>
<circle cx="29.3" cy="66.9" r="1.5"/>
<circle cx="25.9" cy="69.8" r="1.5"/>
<circle cx="49.8" cy="67.4" r="2"/>
<circle cx="48.3" cy="76.1" r="2"/>
<circle cx="28.3" cy="80" r="2"/>
</g>
</g>
</svg>
</body></html>
